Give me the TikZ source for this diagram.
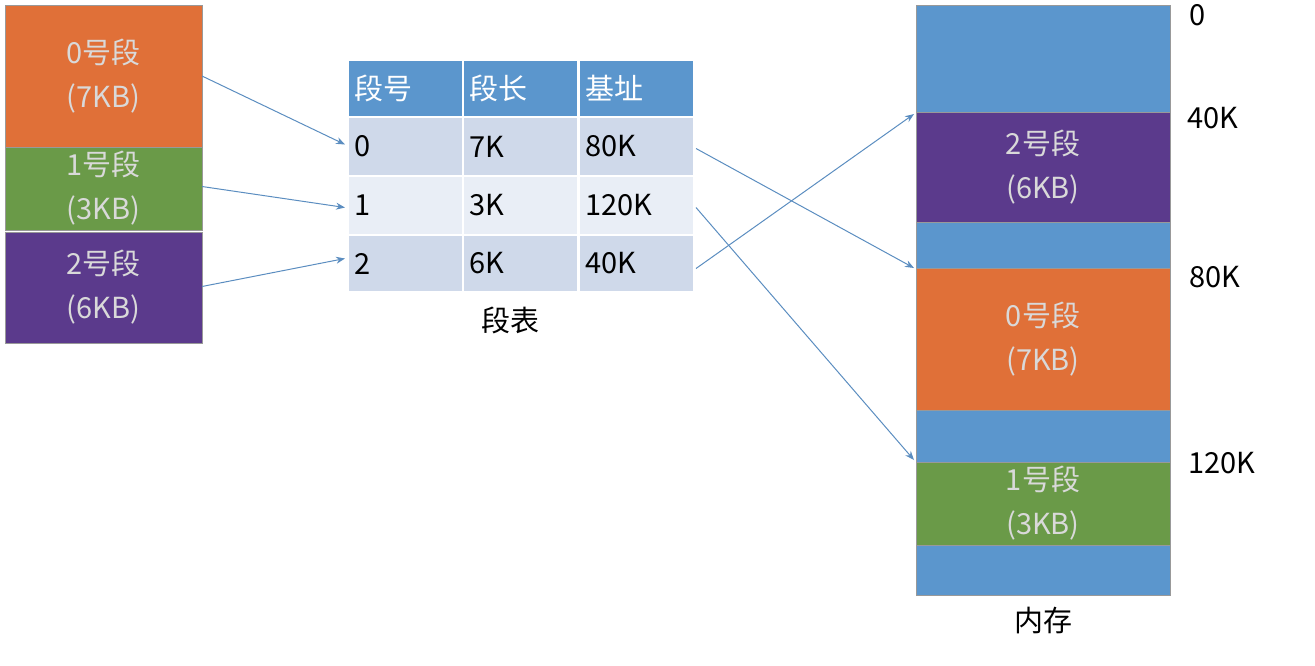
\documentclass[tikz,border=0pt]{standalone}
\usepackage{fontspec}
\setmainfont{Noto Sans CJK SC}
\usetikzlibrary{arrows.meta}
\definecolor{segorange}{HTML}{E07038}
\definecolor{seggreen}{HTML}{6A9A48}
\definecolor{segpurple}{HTML}{5B3A8C}
\definecolor{memblue}{HTML}{5B96CD}
\definecolor{rowdark}{HTML}{CFD9EA}
\definecolor{rowlight}{HTML}{E9EEF6}
\definecolor{arrowblue}{HTML}{5B8DC0}
\tikzset{
  blk/.style={anchor=north west,inner sep=0pt,outer sep=0pt,draw=black!40,line width=0.5pt,text=white!85!black,align=center,font=\fontsize{29}{44}\selectfont},
  cell/.style={anchor=north west,inner sep=0pt,outer sep=0pt,draw=white,line width=2pt,minimum width=115pt,text width=103pt,align=left,font=\fontsize{29}{32}\selectfont},
  lbl/.style={inner sep=0pt,font=\fontsize{29}{32}\selectfont},
  link/.style={draw=arrowblue,line width=1pt,-{Stealth[length=9pt,width=7pt]}}
}
\begin{document}
\begin{tikzpicture}[x=1pt,y=1pt,yscale=-1]
\useasboundingbox (0,0) rectangle (1315,665);
% segments of the process
\node[blk,fill=segorange,minimum width=197pt,minimum height=142pt] (s0) at (5,5) {0号段\\(7KB)};
\node[blk,fill=seggreen,minimum width=197pt,minimum height=83pt] (s1) at (5,147) {1号段\\(3KB)};
\node[blk,fill=segpurple,minimum width=197pt,minimum height=111pt] (s2) at (5,232) {2号段\\(6KB)};
% segment table
\node[cell,fill=memblue,text=white,minimum height=57pt] (h0) at (348,60) {段号};
\node[cell,fill=memblue,text=white,minimum height=57pt] (h1) at (463,60) {段长};
\node[cell,fill=memblue,text=white,minimum height=57pt] (h2) at (579,60) {基址};
\node[cell,fill=rowdark,minimum height=59pt] (r0a) at (348,117) {0};
\node[cell,fill=rowdark,minimum height=59pt] (r0b) at (463,117) {7K};
\node[cell,fill=rowdark,minimum height=59pt] (r0c) at (579,117) {80K};
\node[cell,fill=rowlight,minimum height=59pt] (r1a) at (348,176) {1};
\node[cell,fill=rowlight,minimum height=59pt] (r1b) at (463,176) {3K};
\node[cell,fill=rowlight,minimum height=59pt] (r1c) at (579,176) {120K};
\node[cell,fill=rowdark,minimum height=57pt] (r2a) at (348,235) {2};
\node[cell,fill=rowdark,minimum height=57pt] (r2b) at (463,235) {6K};
\node[cell,fill=rowdark,minimum height=57pt] (r2c) at (579,235) {40K};
\node[lbl] (tab) at (510,320) {段表};
% memory
\node[blk,fill=memblue,minimum width=254pt,minimum height=107pt] (m0) at (916,5) {};
\node[blk,fill=segpurple,minimum width=254pt,minimum height=110pt] (m2) at (916,112) {2号段\\(6KB)};
\node[blk,fill=memblue,minimum width=254pt,minimum height=46pt] (m3) at (916,222) {};
\node[blk,fill=segorange,minimum width=254pt,minimum height=142pt] (m4) at (916,268) {0号段\\(7KB)};
\node[blk,fill=memblue,minimum width=254pt,minimum height=52pt] (m5) at (916,410) {};
\node[blk,fill=seggreen,minimum width=254pt,minimum height=83pt] (m6) at (916,462) {1号段\\(3KB)};
\node[blk,fill=memblue,minimum width=254pt,minimum height=50pt] (m7) at (916,545) {};
\node[lbl] (mem) at (1043,620) {内存};
\node[lbl] (a0) at (1198,15) {0};
\node[lbl] (a40) at (1213,118) {40K};
\node[lbl] (a80) at (1215,277) {80K};
\node[lbl] (a120) at (1222,463) {120K};
% connectors
\draw[link] (s0.east) -- ([xshift=-3pt,yshift=-2pt]r0a.west);
\draw[link] ([yshift=-2pt]s1.east) -- ([xshift=-3pt,yshift=2pt]r1a.west);
\draw[link] ([yshift=-1pt]s2.east) -- ([xshift=-3pt,yshift=-5pt]r2a.west);
\draw[link] ([xshift=2pt,yshift=2pt]r0c.east) -- ([xshift=-2pt]m4.north west);
\draw[link] ([xshift=2pt,yshift=2pt]r1c.east) -- ([xshift=-2pt,yshift=-2pt]m6.north west);
\draw[link] ([xshift=2pt,yshift=5pt]r2c.east) -- ([xshift=-2pt,yshift=2pt]m2.north west);
\end{tikzpicture}
\end{document}
